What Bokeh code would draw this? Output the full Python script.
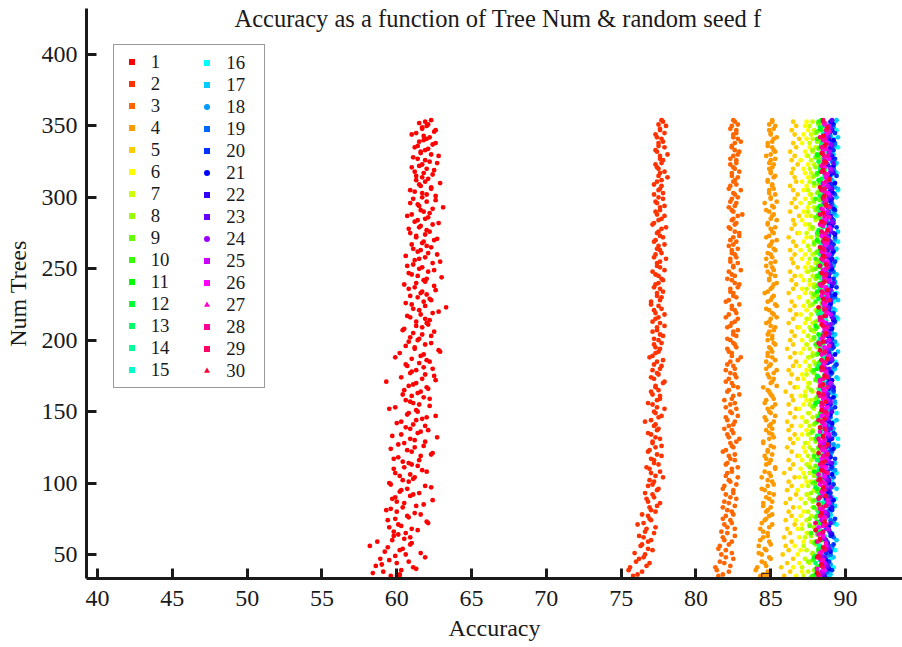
from bokeh.plotting import figure
from bokeh.models import Range1d, FixedTicker, Legend, LegendItem, Label
from bokeh.embed import file_html
from bokeh.resources import INLINE

title_text = "Accuracy as a function of Tree Num & random seed f"
x_label = "Accuracy"
y_label = "Num Trees"
x_ticks = [40, 45, 50, 55, 60, 65, 70, 75, 80, 85, 90]
y_ticks = [50, 100, 150, 200, 250, 300, 350, 400]
series_names = [str(i) for i in range(1, 31)]

# tree counts at which accuracy values were read
trees_s1 = list(range(35, 355, 2))
trees_s1b = list(range(36, 355, 2))
trees_a = list(range(35, 355, 3))
trees_a2 = list(range(36, 355, 3))
trees_b = [list(range(33 + k, 355, 6)) for k in range(6)]

acc_s1 = [
    59.6, 58.4, 60.3, 61.1, 59.0, 60.8, 58.9, 59.9, 61.6, 60.2, 59.4, 60.9, 58.7, 60.5, 59.8,
    60.6, 61.4, 59.5, 60.1, 62.0, 59.9, 60.7, 61.2, 59.3, 60.4, 61.8, 60.0, 59.7, 60.9, 61.5, 60.3, 62.3, 59.6, 60.8, 61.1, 60.2, 59.9, 61.7, 60.5,
    61.0, 60.4, 59.8, 61.6, 62.4, 60.7, 61.2, 60.1, 61.9, 60.9, 59.7, 61.4, 62.1, 60.6, 61.1, 60.3, 61.7, 62.6, 60.8, 61.3, 59.9, 61.5, 60.9, 62.2, 61.0,
    61.4, 60.5, 62.0, 61.1, 59.3, 61.7, 62.5, 60.9, 61.3, 61.8, 60.6, 62.2, 61.0, 61.6, 60.2, 62.8, 61.2, 61.9, 60.8, 61.5, 62.3, 61.1, 60.4, 61.7, 62.1,
    61.3, 61.9, 60.7, 62.4, 61.5, 63.3, 61.0, 61.8, 62.2, 60.9, 61.6, 62.6, 61.2, 60.5, 61.9, 62.0, 61.4, 60.8, 62.5, 61.7, 61.1, 62.9, 61.5, 60.6, 62.1,
    61.6, 62.3, 61.0, 61.8, 62.7, 61.3, 60.9, 62.0, 61.5, 62.4, 61.2, 61.9, 60.7, 62.2, 61.6, 63.1, 61.4, 62.0, 61.1, 62.6, 61.7, 60.9, 62.3, 61.5, 61.9,
    62.1, 61.3, 61.8, 62.5, 61.0, 61.7, 62.2, 61.4, 62.8, 61.6, 61.9, 61.2, 62.4, 61.5, 62.0, 61.8, 61.3, 62.6, 61.7, 62.1, 61.9,
]
acc_s1b = [
    60.2, 59.1, 61.3, 58.6, 60.0, 59.5, 61.9, 60.6, 59.2, 60.4, 58.2, 61.0, 59.7, 60.9, 60.1,
    59.8, 61.0, 60.3, 62.1, 59.4, 60.8, 61.6, 60.0, 59.6, 61.3, 60.5, 62.4, 59.9, 61.1, 60.2, 60.7, 61.9, 59.5, 60.4, 61.2, 60.9, 62.0, 59.8, 61.4,
    60.8, 61.5, 60.1, 62.3, 61.0, 59.6, 61.8, 60.5, 61.2, 62.7, 60.3, 61.6, 60.9, 61.9, 60.0, 61.3, 62.0, 60.7, 61.4, 59.5, 62.2, 61.1, 60.6, 61.8, 60.4,
    61.6, 62.1, 60.8, 61.3, 62.6, 60.3, 61.9, 61.0, 62.4, 60.7, 61.5, 62.0, 59.9, 61.8, 62.9, 61.2, 60.6, 62.3, 61.4, 60.9, 61.7, 62.5, 60.5, 61.3, 62.0,
    62.2, 60.9, 61.6, 62.8, 61.1, 61.9, 60.6, 62.3, 61.4, 62.0, 61.7, 60.8, 62.5, 61.3, 61.8, 63.0, 61.0, 62.1, 61.5, 60.7, 62.4, 61.2, 61.9, 62.7, 61.4,
    61.1, 62.0, 61.7, 62.5, 61.3, 61.9, 62.2, 60.8, 61.6, 62.8, 61.4, 62.1, 61.0, 61.8, 62.4, 61.5, 60.9, 62.6, 61.7, 62.0, 61.2, 62.3, 61.6, 62.9, 61.3,
    61.7, 62.4, 61.2, 62.0, 61.5, 62.7, 61.9, 61.1, 62.3, 61.6, 62.1, 61.4, 62.6, 61.8, 62.2, 61.0, 62.5, 61.7, 62.0, 61.5, 62.3,
]
acc_s2 = [
    75.8, 76.4, 75.6, 76.9, 76.2, 76.6, 77.1, 76.3, 76.8, 76.5, 77.2, 76.7, 76.1, 77.0, 76.8,
    77.3, 76.9, 77.6, 76.7, 77.1, 77.4, 76.8, 77.2, 77.8, 77.0, 76.9, 77.5, 77.2, 77.7, 76.8, 77.3, 77.1, 77.6, 77.0, 77.4,
    77.2, 76.6, 77.5, 77.3, 77.9, 77.1, 77.4, 77.6, 77.0, 77.3, 77.8, 77.2, 77.5, 77.1, 77.7, 77.4, 76.9, 77.3, 77.6, 77.2,
    77.5, 77.8, 77.1, 77.4, 77.6, 77.3, 77.9, 77.2, 77.5, 77.0, 77.7, 77.4, 77.6, 77.3, 77.8, 77.5, 77.1, 77.6, 77.4, 78.0,
    77.3, 77.6, 77.5, 77.2, 77.8, 77.4, 77.7, 77.1, 77.5, 77.9, 77.3, 77.6, 77.4, 77.8, 77.2, 77.5, 77.7, 77.4, 78.1, 77.6,
    77.5, 77.3, 77.8, 77.6, 77.4, 77.9, 77.5, 77.7, 77.3, 77.6, 78.0, 77.8,
]
acc_s2b = [
    76.1, 75.5, 76.7, 76.0, 76.5, 75.9, 76.8, 76.4, 77.0, 76.2, 76.6, 77.3, 76.5, 76.9, 76.4,
    77.0, 77.4, 76.8, 77.2, 76.6, 77.5, 77.1, 76.9, 77.3, 77.6, 76.7, 77.2, 77.0, 77.4, 76.9, 77.7, 77.1, 77.3, 76.8, 77.5,
    77.3, 77.0, 77.7, 77.2, 77.4, 76.8, 77.6, 77.1, 77.5, 77.3, 77.9, 77.0, 77.4, 77.6, 77.2, 77.8, 77.1, 77.5, 77.3, 77.7,
    77.2, 77.6, 77.4, 77.9, 77.1, 77.5, 77.3, 77.7, 77.0, 77.6, 77.4, 77.8, 77.2, 77.5, 77.7, 77.3, 77.9, 77.4, 77.6, 77.2,
    77.7, 77.4, 77.9, 77.3, 77.6, 77.5, 78.0, 77.2, 77.7, 77.4, 77.6, 77.9, 77.3, 77.5, 77.8, 77.6, 77.2, 77.7, 77.5, 77.9,
    77.4, 77.7, 77.6, 78.1, 77.3, 77.5, 77.8, 77.4, 77.9, 77.6, 77.5, 77.7,
]
acc_s3 = [
    81.5, 82.2, 81.3, 81.9, 82.5, 81.7, 82.0, 81.6, 82.4, 81.8, 82.1, 82.6, 81.9, 82.3, 82.0,
    82.4, 81.8, 82.2, 82.7, 82.0, 82.5, 81.9, 82.3, 82.8, 82.1, 82.4, 82.0, 82.6, 82.2, 81.8, 82.5, 82.3, 82.9, 82.1, 82.4,
    82.2, 82.6, 82.0, 82.4, 82.7, 82.3, 81.9, 82.5, 82.1, 82.8, 82.4, 82.2, 82.6, 82.0, 82.5, 82.3, 83.0, 82.4, 82.1, 82.6,
    82.3, 82.7, 82.5, 82.1, 82.4, 82.8, 82.2, 82.6, 82.4, 82.0, 82.7, 82.5, 82.3, 82.9, 82.4, 82.6, 82.2, 82.5, 82.8, 82.3,
    82.6, 82.4, 82.2, 82.7, 82.5, 82.9, 82.3, 82.6, 82.4, 82.8, 82.5, 82.2, 82.7, 82.4, 82.6, 83.0, 82.3, 82.5, 82.8, 82.4,
    82.6, 82.3, 82.7, 82.5, 82.9, 82.4, 82.6, 82.8, 82.5, 82.7, 82.4, 82.6,
]
acc_s3b = [
    81.8, 81.4, 82.3, 81.6, 82.0, 82.4, 81.5, 82.2, 81.9, 82.6, 81.7, 82.1, 82.4, 81.8, 82.5,
    82.1, 82.6, 81.9, 82.3, 82.5, 81.8, 82.7, 82.2, 82.0, 82.4, 82.8, 82.1, 82.3, 82.6, 82.0, 82.4, 82.7, 82.2, 82.5, 81.9,
    82.5, 82.1, 82.8, 82.3, 82.0, 82.6, 82.4, 82.9, 82.2, 82.5, 82.0, 82.7, 82.3, 82.6, 82.1, 82.8, 82.4, 82.2, 82.7, 82.5,
    82.1, 82.5, 82.8, 82.3, 82.6, 82.0, 82.7, 82.4, 82.9, 82.2, 82.5, 82.3, 82.8, 82.6, 82.1, 82.4, 83.0, 82.5, 82.3, 82.7,
    82.4, 82.8, 82.5, 82.3, 82.9, 82.6, 82.2, 82.7, 82.5, 83.1, 82.4, 82.6, 82.3, 82.8, 82.5, 82.2, 82.7, 82.6, 82.4, 82.9,
    82.5, 82.7, 82.3, 82.8, 82.6, 82.4, 83.0, 82.5, 82.7, 82.3, 82.8, 82.5,
]
acc_s4 = [
    84.3, 84.8, 84.1, 84.6, 85.0, 84.4, 84.7, 84.2, 84.9, 84.5, 84.8, 84.3, 85.1, 84.6, 84.9,
    84.7, 85.0, 84.5, 84.9, 85.2, 84.6, 84.8, 85.1, 84.4, 84.9, 85.3, 84.7, 85.0, 84.6, 84.8, 85.2, 84.5, 84.9, 85.1, 84.7,
    84.9, 85.2, 84.6, 85.0, 84.8, 85.3, 84.7, 85.1, 84.9, 84.5, 85.0, 85.2, 84.8, 85.4, 84.9, 84.7, 85.1, 84.8, 85.0, 85.3,
    84.8, 85.1, 84.9, 85.3, 84.7, 85.0, 85.2, 84.9, 85.4, 84.8, 85.1, 84.6, 85.0, 85.2, 84.9, 85.3, 84.8, 85.1, 85.0, 84.7,
    85.0, 85.3, 84.9, 85.1, 84.7, 85.2, 85.0, 84.8, 85.4, 85.1, 84.9, 85.2, 84.6, 85.0, 85.3, 84.9, 85.1, 84.8, 85.2, 85.0,
    84.9, 85.2, 85.0, 84.7, 85.3, 85.1, 84.8, 85.2, 85.0, 84.9, 85.3, 85.1,
]
acc_s4b = [
    84.5, 84.0, 84.7, 84.4, 84.9, 84.2, 84.6, 85.0, 84.3, 84.8, 84.5, 84.9, 84.4, 84.7, 85.1,
    84.8, 84.5, 85.1, 84.7, 84.9, 84.4, 85.2, 84.8, 85.0, 84.6, 85.3, 84.9, 84.7, 85.1, 84.8, 85.0, 84.5, 85.2, 84.9, 85.1,
    85.0, 84.7, 85.3, 84.9, 85.1, 84.6, 85.2, 85.0, 84.8, 85.4, 85.1, 84.9, 85.2, 84.7, 85.0, 85.3, 84.8, 85.1, 84.9, 85.2,
    85.1, 84.8, 85.2, 85.0, 84.9, 85.4, 85.1, 84.7, 85.3, 85.0, 85.2, 84.8, 85.1, 85.4, 84.9, 85.0, 85.2, 84.7, 85.3, 85.1,
    84.8, 85.2, 85.0, 85.4, 84.9, 85.1, 85.3, 84.8, 85.0, 85.2, 84.7, 85.1, 85.4, 85.0, 84.9, 85.2, 85.1, 84.8, 85.3, 85.0,
    85.1, 84.9, 85.3, 85.0, 85.2, 84.8, 85.1, 85.4, 85.0, 85.2, 84.9, 85.1,
]
acc_s5 = [
    85.9, 86.3, 85.7, 86.1, 86.5, 85.8, 86.2, 86.0, 86.4, 85.9, 86.3, 86.1, 86.6, 86.0, 86.4,
    86.2, 86.5, 86.0, 86.3, 86.7, 86.1, 86.4, 86.2, 86.6, 85.9, 86.3, 86.5, 86.2, 86.8, 86.4, 86.1, 86.5, 86.3, 86.6, 86.2,
    86.4, 86.1, 86.6, 86.3, 86.7, 86.2, 86.5, 86.4, 86.0, 86.6, 86.3, 86.8, 86.4, 86.2, 86.5, 86.7, 86.3, 86.6, 86.1, 86.5,
    86.3, 86.6, 86.4, 86.8, 86.2, 86.5, 86.7, 86.3, 86.6, 86.4, 86.9, 86.2, 86.5, 86.7, 86.4, 86.6, 86.3, 86.8, 86.5, 86.4,
    86.6, 86.3, 86.7, 86.5, 86.2, 86.8, 86.4, 86.6, 86.5, 86.9, 86.3, 86.7, 86.4, 86.6, 86.8, 86.5, 86.3, 86.7, 86.6, 86.4,
    86.5, 86.8, 86.4, 86.6, 86.3, 86.7, 86.5, 86.9, 86.6, 86.4, 86.7, 86.5,
]
acc_s6 = [
    86.7, 87.1, 86.5, 86.9, 87.3, 86.8, 87.0, 86.6, 87.2, 86.9, 87.4, 86.8, 87.1, 86.7, 87.0,
    87.2, 86.9, 87.3, 87.0, 87.5, 86.8, 87.1, 87.4, 86.9, 87.2, 87.0, 87.6, 87.1, 86.9, 87.3, 87.2, 87.5, 86.8, 87.1, 87.4,
    87.0, 87.3, 87.1, 87.6, 86.9, 87.2, 87.4, 87.0, 87.3, 86.8, 87.5, 87.2, 87.1, 87.4, 86.9, 87.3, 87.6, 87.0, 87.2, 87.4,
    87.1, 87.5, 87.2, 86.9, 87.3, 87.6, 87.0, 87.4, 87.2, 87.5, 86.9, 87.3, 87.1, 87.6, 87.2, 87.0, 87.4, 87.3, 87.5, 87.1,
    87.3, 87.0, 87.5, 87.2, 87.4, 86.9, 87.6, 87.3, 87.1, 87.4, 87.2, 87.5, 87.0, 87.3, 87.6, 87.2, 87.4, 87.1, 87.5, 87.3,
    87.2, 87.5, 87.0, 87.4, 87.3, 87.6, 87.1, 87.4, 87.2, 87.5, 87.3, 87.4,
]
acc_s7 = [
    87.2, 87.5, 87.1, 87.6, 87.3, 87.8, 87.4, 87.2, 87.7, 87.3, 87.5, 87.1, 87.6, 87.4, 87.7,
    87.5, 87.8, 87.3, 87.6, 87.4, 87.9, 87.5, 87.7, 87.3, 87.6, 87.8, 87.4, 87.7, 87.5, 87.9, 87.6, 87.3, 87.7, 87.5, 87.8,
    87.6, 87.4, 87.8, 87.5, 87.9, 87.6, 87.7, 87.3, 87.8, 87.5, 87.6, 88.0, 87.4, 87.7, 87.6, 87.9, 87.5, 87.8, 87.6, 87.4,
    87.7, 87.5, 87.9, 87.6, 87.8, 87.4, 87.7, 88.0, 87.6, 87.5, 87.8, 87.7, 87.4, 87.9, 87.6, 87.8, 87.5, 87.7, 88.0, 87.6,
    87.8, 87.6, 87.5, 87.9, 87.7, 87.4, 87.8, 87.6, 88.0, 87.7, 87.5, 87.9, 87.6, 87.8, 87.7, 87.5, 87.9, 87.6, 87.8, 87.7,
    87.6, 87.9, 87.7, 87.5, 87.8, 88.0, 87.6, 87.8, 87.7, 87.9, 87.6, 87.8,
]
acc_s8 = [
    87.6, 87.9, 87.5, 87.8, 88.0, 87.7, 87.9, 87.6, 88.1, 87.8, 87.7, 88.0, 87.9, 87.6, 88.2, 87.8, 88.0, 87.7,
    87.9, 88.1, 87.8, 88.0, 87.7, 88.2, 87.9, 88.0, 87.8, 88.1, 87.9, 87.7, 88.0, 88.2, 87.8, 88.1, 87.9, 88.0,
    87.8, 88.2, 88.0, 87.9, 88.1, 87.8, 88.3, 88.0, 87.9, 88.1, 88.2, 87.9, 88.0, 88.2, 87.8, 88.1, 88.0, 88.2,
]
acc_s9 = [
    87.7, 88.0, 87.8, 88.2, 87.9, 88.1, 87.6, 88.0, 88.2, 87.9, 88.1, 87.8, 88.3, 88.0, 87.9, 88.2, 88.1, 87.8,
    88.0, 88.3, 87.9, 88.1, 88.2, 88.0, 87.8, 88.2, 88.1, 88.3, 87.9, 88.0, 88.2, 88.1, 88.4, 87.9, 88.1, 88.2,
    88.0, 88.3, 88.1, 87.9, 88.2, 88.4, 88.0, 88.1, 88.3, 88.2, 87.9, 88.1, 88.3, 88.0, 88.2, 88.4, 88.1, 88.2,
]
acc_s10 = [
    87.8, 88.1, 87.9, 88.2, 88.0, 87.7, 88.3, 88.1, 87.9, 88.2, 88.4, 88.0, 88.1, 88.3, 87.9, 88.2, 88.0, 88.4,
    88.1, 88.3, 88.0, 88.2, 88.5, 88.1, 87.9, 88.3, 88.2, 88.0, 88.4, 88.1, 88.3, 88.2, 88.0, 88.5, 88.2, 88.1,
    88.3, 88.0, 88.4, 88.2, 88.1, 88.5, 88.3, 88.2, 88.0, 88.4, 88.3, 88.1, 88.5, 88.2, 88.3, 88.1, 88.4, 88.2,
]
acc_s11 = [
    88.0, 88.3, 87.9, 88.2, 88.4, 88.1, 88.0, 88.3, 88.5, 88.2, 88.1, 88.4, 87.9, 88.3, 88.2, 88.5, 88.1, 88.3,
    88.2, 88.4, 88.0, 88.3, 88.6, 88.2, 88.1, 88.4, 88.3, 88.5, 88.2, 88.0, 88.4, 88.3, 88.6, 88.1, 88.3, 88.4,
    88.2, 88.5, 88.3, 88.1, 88.4, 88.6, 88.2, 88.3, 88.5, 88.4, 88.2, 88.3, 88.6, 88.1, 88.4, 88.5, 88.3, 88.4,
]
acc_s12 = [
    88.1, 88.4, 88.0, 88.3, 88.5, 88.2, 88.1, 88.6, 88.3, 88.4, 88.0, 88.5, 88.2, 88.4, 88.7, 88.3, 88.1, 88.5,
    88.3, 88.6, 88.2, 88.4, 88.5, 88.1, 88.3, 88.7, 88.4, 88.2, 88.5, 88.6, 88.3, 88.4, 88.2, 88.6, 88.5, 88.3,
    88.4, 88.7, 88.3, 88.5, 88.2, 88.6, 88.4, 88.5, 88.3, 88.7, 88.4, 88.6, 88.2, 88.5, 88.4, 88.6, 88.3, 88.5,
]
acc_s13 = [
    88.2, 88.0, 88.4, 88.3, 88.6, 88.1, 88.4, 88.2, 88.5, 88.3, 88.7, 88.2, 88.4, 88.1, 88.5, 88.6, 88.3, 88.4,
    88.2, 88.5, 88.7, 88.3, 88.4, 88.6, 88.2, 88.5, 88.3, 88.4, 88.7, 88.5, 88.2, 88.6, 88.4, 88.3, 88.5, 88.7,
    88.4, 88.3, 88.6, 88.5, 88.8, 88.4, 88.3, 88.6, 88.5, 88.4, 88.7, 88.3, 88.5, 88.6, 88.4, 88.7, 88.5, 88.4,
]
acc_s14 = [
    88.3, 88.1, 88.5, 88.4, 88.2, 88.6, 88.3, 88.7, 88.4, 88.2, 88.5, 88.8, 88.4, 88.3, 88.6, 88.5, 88.7, 88.3,
    88.5, 88.4, 88.8, 88.6, 88.3, 88.5, 88.7, 88.4, 88.6, 88.5, 88.3, 88.8, 88.6, 88.4, 88.5, 88.7, 88.6, 88.4,
    88.5, 88.8, 88.6, 88.4, 88.7, 88.5, 88.6, 88.9, 88.5, 88.7, 88.4, 88.6, 88.8, 88.5, 88.7, 88.6, 88.5, 88.8,
]
acc_s15 = [
    88.4, 88.7, 88.3, 88.6, 88.8, 88.5, 88.7, 88.4, 88.9, 88.6, 88.5, 88.8, 88.7, 88.4, 88.6, 89.0, 88.7, 88.5,
    88.8, 88.6, 88.9, 88.7, 88.5, 88.8, 89.0, 88.6, 88.7, 88.9, 88.5, 88.8, 88.7, 89.0, 88.6, 88.8, 88.9, 88.7,
    88.6, 88.9, 88.8, 89.1, 88.7, 88.8, 88.6, 89.0, 88.9, 88.7, 88.8, 89.1, 88.7, 88.9, 88.8, 89.0, 88.7, 88.9,
]
acc_s16 = [
    88.9, 89.2, 89.0, 89.3, 88.8, 89.1, 89.4, 89.0, 89.2, 89.3, 88.9, 89.1, 89.4, 89.2, 89.0, 89.3, 89.5, 89.1,
    89.2, 89.4, 89.0, 89.3, 89.1, 89.5, 89.2, 89.3, 89.0, 89.4, 89.2, 89.1, 89.5, 89.3, 89.2, 89.4, 89.0, 89.3,
    89.1, 89.4, 89.3, 89.5, 89.2, 89.0, 89.4, 89.3, 89.1, 89.5, 89.2, 89.4, 89.3, 89.1, 89.5, 89.2, 89.4, 89.3,
]
acc_s17 = [
    89.0, 88.8, 89.2, 89.1, 89.4, 88.9, 89.2, 89.0, 89.3, 89.1, 89.4, 88.9, 89.2, 89.3, 89.0, 89.5, 89.1, 89.2,
    89.4, 89.0, 89.3, 89.2, 89.1, 89.4, 89.3, 89.0, 89.5, 89.2, 89.3, 89.1, 89.4, 89.2, 89.5, 89.1, 89.3, 89.4,
    89.2, 89.0, 89.4, 89.3, 89.5, 89.1, 89.3, 89.2, 89.4, 89.5, 89.1, 89.3, 89.4, 89.2, 89.3, 89.5, 89.1, 89.4,
]
acc_s18 = [
    88.7, 89.0, 88.8, 89.1, 88.6, 88.9, 89.2, 88.8, 89.0, 88.7, 89.1, 88.9, 89.3, 88.8, 89.0, 89.2, 88.9, 89.1,
    88.8, 89.0, 89.3, 88.9, 89.1, 88.8, 89.2, 89.0, 88.9, 89.3, 89.1, 88.8, 89.2, 89.0, 89.1, 88.9, 89.3, 89.0,
    89.2, 88.9, 89.1, 89.3, 89.0, 88.8, 89.2, 89.1, 88.9, 89.3, 89.0, 89.2, 89.1, 88.9, 89.3, 89.0, 89.2, 89.1,
]
acc_s19 = [
    88.8, 88.6, 89.0, 88.9, 89.2, 88.7, 89.0, 88.8, 89.1, 88.9, 88.7, 89.2, 89.0, 88.8, 89.1, 88.9, 89.3, 88.8,
    89.0, 89.1, 88.9, 89.2, 88.8, 89.0, 89.3, 88.9, 89.1, 89.0, 88.8, 89.2, 89.1, 88.9, 89.3, 89.0, 88.9, 89.2,
    89.0, 89.1, 88.8, 89.3, 89.0, 89.2, 88.9, 89.1, 89.3, 89.0, 88.9, 89.2, 89.1, 89.0, 89.3, 88.9, 89.1, 89.2,
]
acc_s20 = [
    88.8, 89.1, 88.9, 88.7, 89.2, 89.0, 88.8, 89.3, 89.1, 88.9, 89.0, 89.2, 88.8, 89.1, 89.3, 89.0, 88.9, 89.2,
    89.1, 88.9, 89.3, 89.0, 89.2, 88.9, 89.1, 89.4, 89.0, 89.2, 89.1, 88.9, 89.3, 89.2, 89.0, 89.1, 89.4, 89.2,
    89.0, 89.3, 89.1, 89.2, 88.9, 89.4, 89.1, 89.3, 89.0, 89.2, 89.1, 89.4, 89.0, 89.3, 89.2, 89.1, 89.3, 89.2,
]
acc_s21 = [
    88.6, 88.9, 88.7, 89.0, 88.8, 89.1, 88.9, 88.6, 89.0, 89.2, 88.8, 88.9, 89.1, 88.7, 89.0, 89.2, 88.9, 88.8,
    89.1, 89.0, 88.8, 89.2, 88.9, 89.1, 89.0, 88.8, 89.3, 89.0, 88.9, 89.1, 89.2, 88.9, 89.0, 89.3, 89.1, 88.9,
    89.1, 89.0, 89.2, 88.9, 89.3, 89.1, 89.0, 89.2, 88.9, 89.1, 89.3, 89.0, 89.2, 89.1, 88.9, 89.2, 89.0, 89.1,
]
acc_s22 = [
    88.6, 88.8, 88.5, 88.9, 88.7, 89.0, 88.6, 88.8, 89.1, 88.7, 88.9, 88.8, 88.6, 89.0, 88.9, 88.7, 89.1, 88.8,
    88.9, 88.7, 89.0, 88.8, 89.2, 88.9, 88.7, 89.0, 88.9, 89.1, 88.8, 88.9, 89.2, 88.8, 89.0, 88.9, 89.1, 88.7,
    88.9, 89.1, 88.8, 89.0, 89.2, 88.9, 89.0, 88.8, 89.1, 89.0, 88.9, 89.2, 88.8, 89.1, 89.0, 88.9, 89.1, 89.0,
]
acc_s23 = [
    88.5, 88.8, 88.6, 88.9, 88.7, 88.5, 89.0, 88.8, 88.7, 89.0, 88.6, 88.9, 88.8, 89.1, 88.7, 88.9, 88.8, 89.0,
    88.7, 89.1, 88.9, 88.8, 89.0, 88.7, 88.9, 89.1, 88.8, 89.0, 88.9, 88.7, 89.1, 88.9, 89.0, 88.8, 89.2, 88.9,
    89.0, 88.8, 89.1, 88.9, 89.0, 89.2, 88.8, 89.0, 88.9, 89.1, 88.8, 89.0, 89.2, 88.9, 89.1, 88.8, 89.0, 89.1,
]
acc_s24 = [
    88.5, 88.7, 88.4, 88.8, 88.6, 88.9, 88.5, 88.7, 88.8, 88.6, 89.0, 88.7, 88.5, 88.9, 88.8, 88.6, 88.9, 88.7,
    88.8, 88.6, 89.0, 88.7, 88.9, 88.8, 88.6, 89.1, 88.8, 88.7, 88.9, 89.0, 88.7, 88.8, 88.6, 89.0, 88.9, 88.7,
    88.9, 88.8, 89.0, 88.7, 88.9, 89.1, 88.8, 88.7, 89.0, 88.9, 88.8, 89.1, 88.7, 88.9, 89.0, 88.8, 88.9, 89.0,
]
acc_s25 = [
    88.4, 88.6, 88.3, 88.7, 88.5, 88.8, 88.4, 88.6, 88.9, 88.5, 88.7, 88.6, 88.4, 88.8, 88.7, 88.5, 88.9, 88.6,
    88.7, 88.5, 88.8, 88.6, 89.0, 88.7, 88.5, 88.8, 88.7, 88.9, 88.6, 88.7, 89.0, 88.6, 88.8, 88.7, 88.9, 88.5,
    88.7, 88.9, 88.6, 88.8, 89.0, 88.7, 88.8, 88.6, 88.9, 88.8, 88.7, 89.0, 88.6, 88.9, 88.8, 88.7, 88.9, 88.8,
]
acc_s26 = [
    88.2, 88.6, 88.4, 88.3, 88.7, 88.5, 88.2, 88.6, 88.4, 88.8, 88.5, 88.3, 88.6, 88.7, 88.4, 88.5, 88.3, 88.7,
    88.6, 88.4, 88.8, 88.5, 88.6, 88.3, 88.7, 88.5, 88.9, 88.6, 88.4, 88.7, 88.5, 88.8, 88.6, 88.4, 88.7, 88.6,
    88.5, 88.8, 88.6, 88.7, 88.4, 88.9, 88.6, 88.5, 88.7, 88.8, 88.5, 88.7, 88.6, 88.9, 88.5, 88.7, 88.8, 88.6,
]
acc_s27 = [
    88.3, 88.1, 88.5, 88.4, 88.7, 88.2, 88.5, 88.6, 88.3, 88.8, 88.4, 88.6, 88.2, 88.5, 88.7, 88.4, 88.6, 88.3,
    88.5, 88.8, 88.4, 88.6, 88.5, 88.3, 88.7, 88.6, 88.4, 88.9, 88.5, 88.6, 88.3, 88.7, 88.5, 88.8, 88.4, 88.6,
    88.7, 88.5, 88.4, 88.8, 88.6, 88.5, 88.9, 88.4, 88.7, 88.6, 88.5, 88.8, 88.4, 88.6, 88.7, 88.5, 88.9, 88.6,
]
acc_s28 = [
    88.2, 88.5, 88.3, 88.6, 88.1, 88.4, 88.7, 88.3, 88.5, 88.2, 88.6, 88.4, 88.8, 88.3, 88.5, 88.6, 88.2, 88.7,
    88.4, 88.6, 88.5, 88.3, 88.8, 88.5, 88.4, 88.7, 88.6, 88.3, 88.5, 88.8, 88.4, 88.6, 88.7, 88.5, 88.3, 88.6,
    88.8, 88.4, 88.6, 88.5, 88.7, 88.3, 88.6, 88.9, 88.5, 88.4, 88.7, 88.6, 88.5, 88.8, 88.4, 88.6, 88.7, 88.5,
]
acc_s29 = [
    88.2, 88.4, 88.1, 88.6, 88.3, 88.5, 88.0, 88.4, 88.7, 88.3, 88.5, 88.2, 88.6, 88.4, 88.8, 88.3, 88.5, 88.6,
    88.2, 88.7, 88.4, 88.5, 88.3, 88.8, 88.5, 88.4, 88.6, 88.2, 88.7, 88.5, 88.3, 88.6, 88.9, 88.4, 88.5, 88.7,
    88.3, 88.6, 88.5, 88.8, 88.4, 88.6, 88.3, 88.7, 88.5, 88.6, 88.9, 88.4, 88.7, 88.5, 88.6, 88.3, 88.8, 88.5,
]
acc_s30 = [
    88.1, 88.4, 88.2, 88.5, 88.3, 88.0, 88.6, 88.4, 88.2, 88.7, 88.5, 88.3, 88.4, 88.6, 88.2, 88.8, 88.5, 88.3,
    88.6, 88.4, 88.7, 88.2, 88.5, 88.6, 88.4, 88.8, 88.3, 88.5, 88.7, 88.4, 88.6, 88.2, 88.5, 88.8, 88.6, 88.4,
    88.7, 88.5, 88.3, 88.6, 88.8, 88.4, 88.5, 88.7, 88.6, 88.3, 88.9, 88.5, 88.6, 88.4, 88.7, 88.5, 88.8, 88.6,
]

# two highlighted points sitting on the bottom axis
marked_acc = [60.1, 84.7]
marked_trees = [33.6, 33.6]

series_acc = [acc_s1 + acc_s1b, acc_s2 + acc_s2b, acc_s3 + acc_s3b, acc_s4 + acc_s4b,
              acc_s5, acc_s6, acc_s7, acc_s8, acc_s9, acc_s10,
              acc_s11, acc_s12, acc_s13, acc_s14, acc_s15, acc_s16, acc_s17, acc_s18, acc_s19, acc_s20,
              acc_s21, acc_s22, acc_s23, acc_s24, acc_s25, acc_s26, acc_s27, acc_s28, acc_s29, acc_s30]
series_trees = ([trees_s1 + trees_s1b] + [trees_a + trees_a2] * 3 + [trees_a] * 3
                + [trees_b[i % 6] for i in range(23)])

colors = ["#ff0000", "#ff3300", "#ff6600", "#ff9900", "#ffcc00", "#ffff00", "#ccff00", "#99ff00",
          "#66ff00", "#33ff00", "#00ff00", "#00ff33", "#00ff66", "#00ff99", "#00ffcc", "#00ffff",
          "#00ccff", "#0099ff", "#0066ff", "#0033ff", "#0000ff", "#3300ff", "#6600ff", "#9900ff",
          "#cc00ff", "#ff00ff", "#ff00cc", "#ff0099", "#ff0066", "#ff0033"]
legend_markers = ["square"] * 17 + ["circle", "square", "square", "circle", "square", "square",
                                     "circle", "square", "square", "triangle", "square", "square", "triangle"]

FONT = "Liberation Serif"
INK = "#1a1a1a"
NAN = float("nan")

p = figure(width=902, height=647, output_backend="svg", toolbar_location=None, title=None,
           x_range=Range1d(39.26, 93.81), y_range=Range1d(33.2, 432.2),
           min_border_left=86, min_border_right=0, min_border_top=8, min_border_bottom=69)
p.outline_line_color = None
p.xgrid.visible = False
p.ygrid.visible = False
p.background_fill_color = "white"
p.border_fill_color = "white"

p.xaxis.ticker = FixedTicker(ticks=x_ticks)
p.yaxis.ticker = FixedTicker(ticks=y_ticks)
p.xaxis.axis_label = x_label
p.yaxis.axis_label = y_label
for ax in (p.xaxis[0], p.yaxis[0]):
    ax.axis_line_width = 3
    ax.axis_line_color = INK
    ax.major_tick_line_width = 3
    ax.major_tick_line_color = INK
    ax.major_tick_in = 10
    ax.major_tick_out = 0
    ax.minor_tick_line_color = None
    ax.major_label_text_font = FONT
    ax.major_label_text_font_size = "24px"
    ax.major_label_text_color = INK
    ax.axis_label_text_font = FONT
    ax.axis_label_text_font_size = "24px"
    ax.axis_label_text_font_style = "normal"
    ax.axis_label_text_color = INK
p.xaxis.major_label_standoff = 12
p.xaxis.axis_label_standoff = 6
p.yaxis.major_label_standoff = 9
p.yaxis.axis_label_standoff = 8

for acc, trees, c in zip(series_acc, series_trees, colors):
    n = min(len(acc), len(trees))
    p.scatter(x=acc[:n], y=trees[:n], marker="circle", size=4.8, fill_color=c, line_color=None)

p.scatter(x=marked_acc[:1], y=marked_trees[:1], marker="square", size=7, fill_color=colors[0], line_color=None)
p.scatter(x=marked_acc[1:], y=marked_trees[1:], marker="square", size=9, fill_color=colors[3],
          line_color="#222222", line_width=1)

# legend-only renderers (a single undefined point each, so nothing shows in the plot)
legend_renderers = []
for c, m in zip(colors, legend_markers):
    legend_renderers.append(p.scatter(x=[NAN], y=[NAN], marker=m, size=6, fill_color=c, line_color=None))

items1 = [LegendItem(label=series_names[i], renderers=[legend_renderers[i]]) for i in range(15)]
items2 = [LegendItem(label=series_names[i], renderers=[legend_renderers[i]]) for i in range(15, 30)]

common = dict(padding=6, spacing=0, margin=0, glyph_width=23, glyph_height=15, label_standoff=8,
              label_height=20, label_text_font=FONT, label_text_font_size="18.8px",
              label_text_color=INK, click_policy="none", border_line_width=1.5)
leg1 = Legend(items=items1, location=(26.7, 190.3), label_width=107,
              border_line_color="#333333",
              background_fill_color="white", background_fill_alpha=1.0, **common)
leg2 = Legend(items=items2, location=(103.3, 190.3), label_width=20,
              border_line_color="white", border_line_alpha=0.0, background_fill_alpha=0.0, **common)
p.add_layout(leg1)
p.add_layout(leg2)

title = Label(x=411.5, y=560, x_units="screen", y_units="screen", text=title_text,
              text_align="center", text_baseline="middle", text_font=FONT,
              text_font_size="24.5px", text_color=INK)
p.add_layout(title)

open("out.html", "w").write(file_html(p, INLINE))
